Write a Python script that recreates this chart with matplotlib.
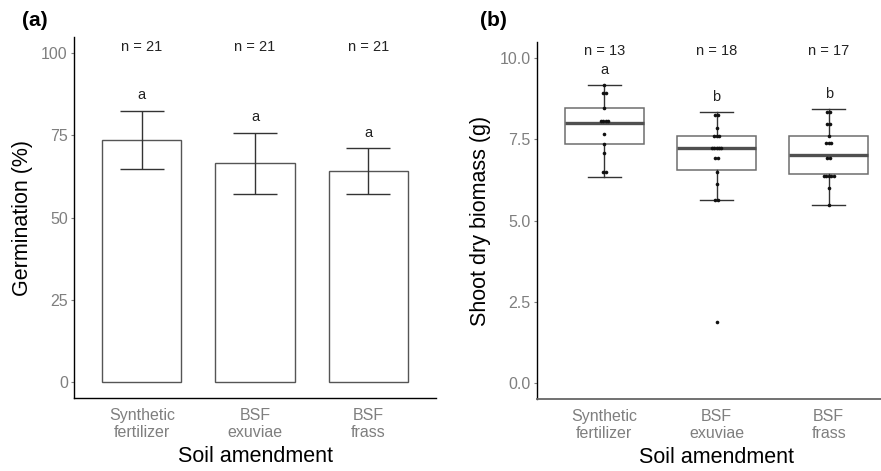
import matplotlib
matplotlib.use("Agg")
import matplotlib.pyplot as plt
import numpy as np

plt.rcParams['font.family'] = ['Liberation Sans', 'DejaVu Sans']

# ---------------- data ----------------
categories = ["Synthetic\nfertilizer", "BSF\nexuviae", "BSF\nfrass"]

# panel (a): germination
germ_mean = [73.7, 66.6, 64.1]
germ_low = [64.9, 57.2, 57.1]
germ_high = [82.6, 75.8, 71.2]
germ_n = [21, 21, 21]
germ_letters = ["a", "a", "a"]

# panel (b): shoot dry biomass box statistics
bio_whislo = [6.35, 5.64, 5.49]
bio_q1 = [7.36, 6.57, 6.44]
bio_med = [8.01, 7.23, 7.02]
bio_q3 = [8.48, 7.60, 7.59]
bio_whishi = [9.18, 8.34, 8.44]
bio_n = [13, 18, 17]
bio_letters = ["a", "b", "b"]

# dot-plot bins (value, count) per group
dots_sf_vals = [9.18, 8.94, 8.47, 8.06, 7.65, 7.36, 7.08, 6.48]
dots_sf_cnt = [1, 2, 1, 4, 1, 1, 1, 2]
dots_ex_vals = [8.26, 7.84, 7.60, 7.23, 6.94, 6.48, 6.13, 5.64, 1.87]
dots_ex_cnt = [2, 1, 3, 5, 2, 1, 1, 2, 1]
dots_fr_vals = [8.34, 7.97, 7.60, 7.38, 6.92, 6.37, 5.99, 5.49]
dots_fr_cnt = [2, 2, 1, 3, 2, 5, 1, 1]

# ---------------- figure ----------------
W, H = 881, 471
fig = plt.figure(figsize=(W / 100, H / 100), dpi=100)

def px_axes(x0, y0, x1, y1):
    return fig.add_axes([x0 / W, 1 - y1 / H, (x1 - x0) / W, (y1 - y0) / H])

GREY = "#7f7f7f"
TICK_FS = 11.5
TITLE_FS = 15.5

def style(ax):
    for s in ["top", "right"]:
        ax.spines[s].set_visible(False)
    ax.spines["left"].set_color("black")
    ax.spines["bottom"].set_color("black")
    ax.spines["left"].set_linewidth(1.0)
    ax.spines["bottom"].set_linewidth(1.0)
    ax.tick_params(axis="y", colors=GREY, labelsize=TICK_FS, length=2.5, pad=2)
    ax.tick_params(axis="x", colors=GREY, labelsize=TICK_FS, length=0, pad=7)
    ax.set_xlim(0.4, 3.6)
    ax.set_xticks([1, 2, 3])
    ax.set_xticklabels(categories)
    ax.set_xlabel("Soil amendment", fontsize=TITLE_FS, color="black", labelpad=4)

x = np.arange(1, len(categories) + 1)

# ---------------- panel (a) ----------------
axa = px_axes(74, 37, 436, 398)
axa.bar(x, germ_mean, width=0.7, facecolor="white", edgecolor="#555555", linewidth=1.0, zorder=2)
yerr = [np.array(germ_mean) - np.array(germ_low), np.array(germ_high) - np.array(germ_mean)]
axa.errorbar(x, germ_mean, yerr=yerr, fmt="none", ecolor="#333333", elinewidth=1.0,
             capsize=15.5, capthick=1.0, zorder=3)
style(axa)
axa.set_ylim(-5, 105)
axa.set_yticks([0, 25, 50, 75, 100])
axa.set_ylabel("Germination (%)", fontsize=TITLE_FS, color="black", labelpad=6)
for xi, n, hi, let in zip(x, germ_n, germ_high, germ_letters):
    axa.text(xi, 101.9, f"n = {n}", ha="center", va="center", fontsize=10.5, color="#222222")
    axa.text(xi, hi + 4.7, let, ha="center", va="center", fontsize=10.5, color="#222222")
fig.text(22 / W, 1 - 20 / H, "(a)", fontsize=15, fontweight="bold", ha="left", va="center")

# ---------------- panel (b) ----------------
axb = px_axes(537, 42, 896, 399)
stats = []
for i in range(3):
    stats.append(dict(med=bio_med[i], q1=bio_q1[i], q3=bio_q3[i],
                      whislo=bio_whislo[i], whishi=bio_whishi[i], fliers=[]))
axb.bxp(stats, positions=x, widths=0.7, capwidths=0.29, showfliers=False, patch_artist=True,
        manage_ticks=False,
        boxprops=dict(facecolor="white", edgecolor="#6e6e6e", linewidth=1.1),
        medianprops=dict(color="#505050", linewidth=2.4),
        whiskerprops=dict(color="#333333", linewidth=1.0),
        capprops=dict(color="#333333", linewidth=1.0), zorder=2)

spacing = 0.022
for xi, vals, cnts in zip(x, [dots_sf_vals, dots_ex_vals, dots_fr_vals],
                          [dots_sf_cnt, dots_ex_cnt, dots_fr_cnt]):
    for v, c in zip(vals, cnts):
        offs = (np.arange(c) - (c - 1) / 2) * spacing
        axb.plot(xi + offs, [v] * c, "o", color="#111111", markersize=2.6,
                 markeredgewidth=0, zorder=4)

style(axb)
axb.spines["bottom"].set_color("#666666")
axb.spines["bottom"].set_linewidth(1.3)
axb.set_ylim(-0.5, 10.5)
axb.set_yticks([0, 2.5, 5, 7.5, 10])
axb.set_yticklabels(["0.0", "2.5", "5.0", "7.5", "10.0"])
axb.set_ylabel("Shoot dry biomass (g)", fontsize=TITLE_FS, color="black", labelpad=6)
for xi, n, hi, let in zip(x, bio_n, bio_whishi, bio_letters):
    axb.text(xi, 10.22, f"n = {n}", ha="center", va="center", fontsize=10.5, color="#222222")
    axb.text(xi, hi + 0.47, let, ha="center", va="center", fontsize=10.5, color="#222222")
fig.text(480 / W, 1 - 20 / H, "(b)", fontsize=15, fontweight="bold", ha="left", va="center")

fig.savefig("out.png", dpi=100)
